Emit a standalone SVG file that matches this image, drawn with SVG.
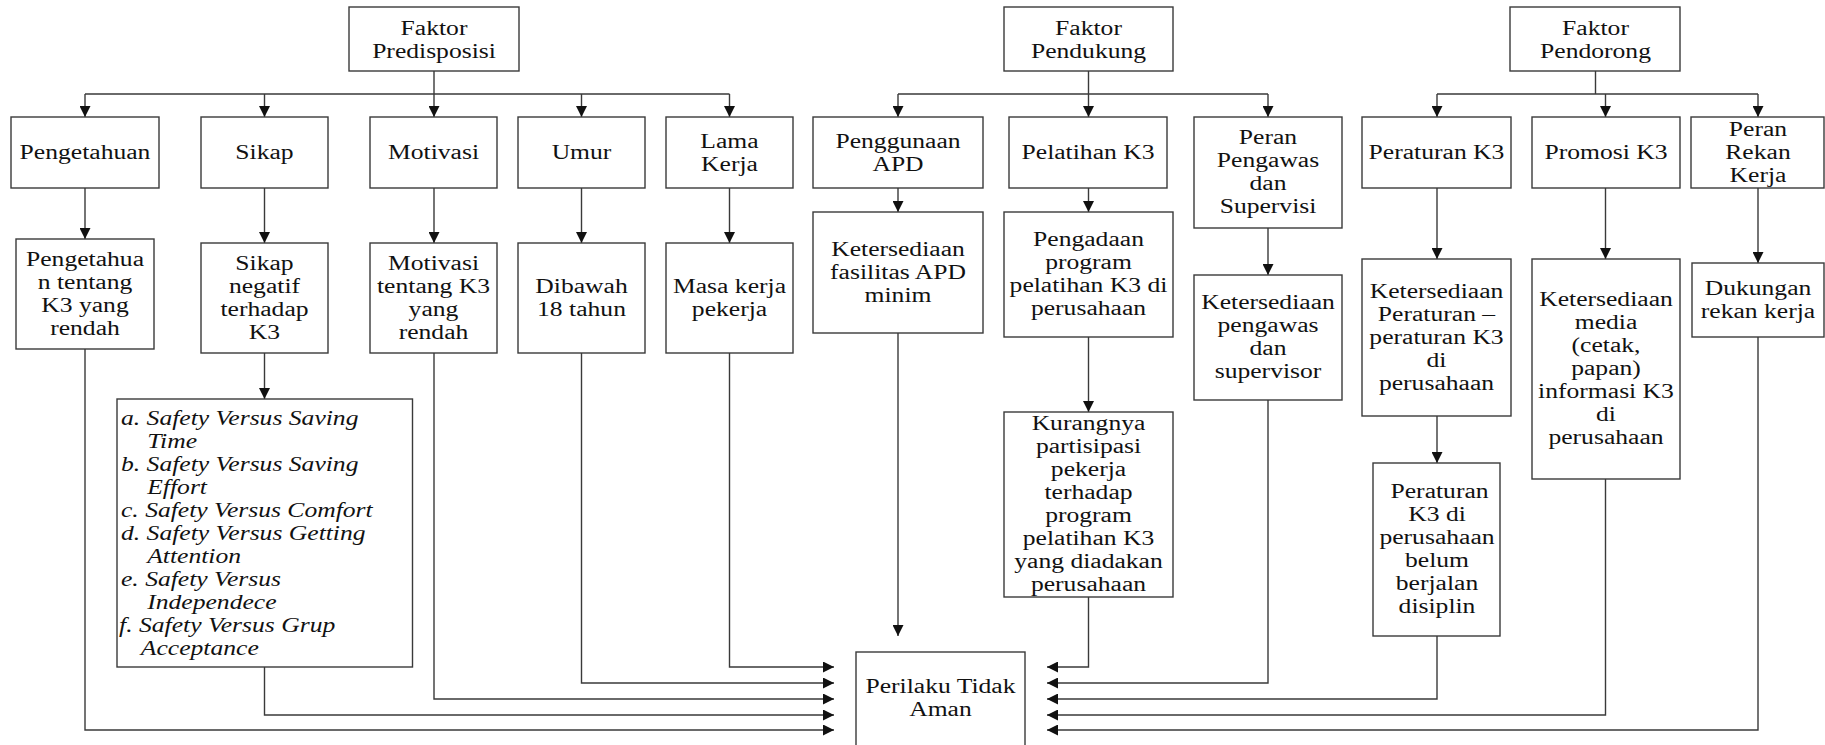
<svg xmlns="http://www.w3.org/2000/svg" width="1825" height="745" viewBox="0 0 1825 745">
<defs>
<style>
.b{fill:#fff;stroke:#3a3a3a;stroke-width:1.4}
.t{font-family:"Liberation Serif","Times New Roman",serif;font-size:20px;fill:#111;text-anchor:middle}
.i{font-family:"Liberation Serif","Times New Roman",serif;font-size:20px;font-style:italic;fill:#111}
.c{fill:none;stroke:#3a3a3a;stroke-width:1.4}
</style>
<marker id="ah" markerUnits="userSpaceOnUse" markerWidth="12" markerHeight="11" refX="11" refY="5.5" orient="auto">
<path d="M0,0 L11,5.5 L0,11 z" fill="#111"/>
</marker>
</defs>
<rect width="1825" height="745" fill="#fff"/>

<g id="connectors">
<path class="c" d="M434,71 V94 M85,94 H729.5"/>
<path class="c" marker-end="url(#ah)" d="M85,94 V117"/>
<path class="c" marker-end="url(#ah)" d="M264.5,94 V117"/>
<path class="c" marker-end="url(#ah)" d="M434,94 V117"/>
<path class="c" marker-end="url(#ah)" d="M581.5,94 V117"/>
<path class="c" marker-end="url(#ah)" d="M729.5,94 V117"/>
<path class="c" marker-end="url(#ah)" d="M85,188 V239"/>
<path class="c" marker-end="url(#ah)" d="M264.5,188 V243"/>
<path class="c" marker-end="url(#ah)" d="M434,188 V243"/>
<path class="c" marker-end="url(#ah)" d="M581.5,188 V243"/>
<path class="c" marker-end="url(#ah)" d="M729.5,188 V243"/>
<path class="c" marker-end="url(#ah)" d="M264.5,353 V399"/>
<path class="c" marker-end="url(#ah)" d="M85,349 V730 H834"/>
<path class="c" marker-end="url(#ah)" d="M264.5,667 V715 H834"/>
<path class="c" marker-end="url(#ah)" d="M434,353 V699 H834"/>
<path class="c" marker-end="url(#ah)" d="M581.5,353 V683 H834"/>
<path class="c" marker-end="url(#ah)" d="M729.5,353 V667 H834"/>

<path class="c" d="M1088.5,71 V94 M898,94 H1268"/>
<path class="c" marker-end="url(#ah)" d="M898,94 V117"/>
<path class="c" marker-end="url(#ah)" d="M1088.5,94 V117"/>
<path class="c" marker-end="url(#ah)" d="M1268,94 V117"/>
<path class="c" marker-end="url(#ah)" d="M898,188 V212"/>
<path class="c" marker-end="url(#ah)" d="M1088.5,188 V212"/>
<path class="c" marker-end="url(#ah)" d="M1268,228 V275"/>
<path class="c" marker-end="url(#ah)" d="M898,333 V636"/>
<path class="c" marker-end="url(#ah)" d="M1088.5,337 V412"/>
<path class="c" marker-end="url(#ah)" d="M1088.5,597 V667 H1047"/>
<path class="c" marker-end="url(#ah)" d="M1268,400 V683 H1047"/>

<path class="c" d="M1595.5,71 V94 M1437,94 H1758"/>
<path class="c" marker-end="url(#ah)" d="M1437,94 V117"/>
<path class="c" marker-end="url(#ah)" d="M1605.5,94 V117"/>
<path class="c" marker-end="url(#ah)" d="M1758,94 V117"/>
<path class="c" marker-end="url(#ah)" d="M1437,188 V259"/>
<path class="c" marker-end="url(#ah)" d="M1605.5,188 V259"/>
<path class="c" marker-end="url(#ah)" d="M1758,188 V263"/>
<path class="c" marker-end="url(#ah)" d="M1437,416 V463"/>
<path class="c" marker-end="url(#ah)" d="M1437,636 V699 H1047"/>
<path class="c" marker-end="url(#ah)" d="M1605.5,479 V715 H1047"/>
<path class="c" marker-end="url(#ah)" d="M1758,337 V730 H1047"/>
</g>

<g id="faktor-predisposisi">
<rect class="b" x="349" y="7" width="170" height="64"/>
<text class="t" transform="translate(434 0) scale(1.28 1)"><tspan x="0" y="35">Faktor</tspan><tspan x="0" y="58">Predisposisi</tspan></text>
</g>
<g id="faktor-pendukung">
<rect class="b" x="1004" y="7" width="169" height="64"/>
<text class="t" transform="translate(1088.5 0) scale(1.28 1)"><tspan x="0" y="35">Faktor</tspan><tspan x="0" y="58">Pendukung</tspan></text>
</g>
<g id="faktor-pendorong">
<rect class="b" x="1510" y="7" width="170" height="64"/>
<text class="t" transform="translate(1595.5 0) scale(1.28 1)"><tspan x="0" y="35">Faktor</tspan><tspan x="0" y="58">Pendorong</tspan></text>
</g>

<g id="pengetahuan">
<rect class="b" x="11" y="117" width="148" height="71"/>
<text class="t" transform="translate(85 0) scale(1.28 1)"><tspan x="0" y="159">Pengetahuan</tspan></text>
</g>
<g id="sikap">
<rect class="b" x="201" y="117" width="127" height="71"/>
<text class="t" transform="translate(264.5 0) scale(1.28 1)"><tspan x="0" y="159">Sikap</tspan></text>
</g>
<g id="motivasi">
<rect class="b" x="370" y="117" width="127" height="71"/>
<text class="t" transform="translate(433.5 0) scale(1.28 1)"><tspan x="0" y="159">Motivasi</tspan></text>
</g>
<g id="umur">
<rect class="b" x="518" y="117" width="127" height="71"/>
<text class="t" transform="translate(581.5 0) scale(1.28 1)"><tspan x="0" y="159">Umur</tspan></text>
</g>
<g id="lama-kerja">
<rect class="b" x="666" y="117" width="127" height="71"/>
<text class="t" transform="translate(729.5 0) scale(1.28 1)"><tspan x="0" y="148">Lama</tspan><tspan x="0" y="171">Kerja</tspan></text>
</g>
<g id="penggunaan-apd">
<rect class="b" x="813" y="117" width="170" height="71"/>
<text class="t" transform="translate(898 0) scale(1.28 1)"><tspan x="0" y="148">Penggunaan</tspan><tspan x="0" y="171">APD</tspan></text>
</g>
<g id="pelatihan-k3">
<rect class="b" x="1009" y="117" width="158" height="71"/>
<text class="t" transform="translate(1088 0) scale(1.28 1)"><tspan x="0" y="159">Pelatihan K3</tspan></text>
</g>
<g id="peran-pengawas">
<rect class="b" x="1194" y="117" width="148" height="111"/>
<text class="t" transform="translate(1268 0) scale(1.28 1)"><tspan x="0" y="144.5">Peran</tspan><tspan x="0" y="167.5">Pengawas</tspan><tspan x="0" y="190.5">dan</tspan><tspan x="0" y="213.5">Supervisi</tspan></text>
</g>
<g id="peraturan-k3">
<rect class="b" x="1362" y="117" width="149" height="71"/>
<text class="t" transform="translate(1436.5 0) scale(1.28 1)"><tspan x="0" y="159">Peraturan K3</tspan></text>
</g>
<g id="promosi-k3">
<rect class="b" x="1532" y="117" width="148" height="71"/>
<text class="t" transform="translate(1606 0) scale(1.28 1)"><tspan x="0" y="159">Promosi K3</tspan></text>
</g>
<g id="peran-rekan-kerja">
<rect class="b" x="1691" y="117" width="133" height="71"/>
<text class="t" transform="translate(1758 0) scale(1.28 1)"><tspan x="0" y="136">Peran</tspan><tspan x="0" y="159">Rekan</tspan><tspan x="0" y="182">Kerja</tspan></text>
</g>

<g id="pengetahuan-rendah">
<rect class="b" x="16" y="239" width="138" height="110"/>
<text class="t" transform="translate(85 0) scale(1.28 1)"><tspan x="0" y="266">Pengetahua</tspan><tspan x="0" y="289">n tentang</tspan><tspan x="0" y="312">K3 yang</tspan><tspan x="0" y="335">rendah</tspan></text>
</g>
<g id="sikap-negatif">
<rect class="b" x="201" y="243" width="127" height="110"/>
<text class="t" transform="translate(264.5 0) scale(1.28 1)"><tspan x="0" y="270">Sikap</tspan><tspan x="0" y="293">negatif</tspan><tspan x="0" y="316">terhadap</tspan><tspan x="0" y="339">K3</tspan></text>
</g>
<g id="motivasi-rendah">
<rect class="b" x="370" y="243" width="127" height="110"/>
<text class="t" transform="translate(433.5 0) scale(1.28 1)"><tspan x="0" y="270">Motivasi</tspan><tspan x="0" y="293">tentang K3</tspan><tspan x="0" y="316">yang</tspan><tspan x="0" y="339">rendah</tspan></text>
</g>
<g id="dibawah-18">
<rect class="b" x="518" y="243" width="127" height="110"/>
<text class="t" transform="translate(581.5 0) scale(1.28 1)"><tspan x="0" y="293">Dibawah</tspan><tspan x="0" y="316">18 tahun</tspan></text>
</g>
<g id="masa-kerja">
<rect class="b" x="666" y="243" width="127" height="110"/>
<text class="t" transform="translate(729.5 0) scale(1.28 1)"><tspan x="0" y="293">Masa kerja</tspan><tspan x="0" y="316">pekerja</tspan></text>
</g>
<g id="fasilitas-apd">
<rect class="b" x="813" y="212" width="170" height="121"/>
<text class="t" transform="translate(898 0) scale(1.28 1)"><tspan x="0" y="256">Ketersediaan</tspan><tspan x="0" y="279">fasilitas APD</tspan><tspan x="0" y="302">minim</tspan></text>
</g>
<g id="pengadaan-program">
<rect class="b" x="1004" y="212" width="169" height="125"/>
<text class="t" transform="translate(1088.5 0) scale(1.28 1)"><tspan x="0" y="246.5">Pengadaan</tspan><tspan x="0" y="269.5">program</tspan><tspan x="0" y="292.5">pelatihan K3 di</tspan><tspan x="0" y="315.5">perusahaan</tspan></text>
</g>
<g id="ketersediaan-pengawas">
<rect class="b" x="1194" y="275" width="148" height="125"/>
<text class="t" transform="translate(1268 0) scale(1.28 1)"><tspan x="0" y="309.5">Ketersediaan</tspan><tspan x="0" y="332.5">pengawas</tspan><tspan x="0" y="355.5">dan</tspan><tspan x="0" y="378.5">supervisor</tspan></text>
</g>
<g id="ketersediaan-peraturan">
<rect class="b" x="1362" y="259" width="149" height="157"/>
<text class="t" transform="translate(1436.5 0) scale(1.28 1)"><tspan x="0" y="298">Ketersediaan</tspan><tspan x="0" y="321">Peraturan –</tspan><tspan x="0" y="344">peraturan K3</tspan><tspan x="0" y="367">di</tspan><tspan x="0" y="390">perusahaan</tspan></text>
</g>
<g id="ketersediaan-media">
<rect class="b" x="1532" y="259" width="148" height="220"/>
<text class="t" transform="translate(1606 0) scale(1.28 1)"><tspan x="0" y="306">Ketersediaan</tspan><tspan x="0" y="329">media</tspan><tspan x="0" y="352">(cetak,</tspan><tspan x="0" y="375">papan)</tspan><tspan x="0" y="398">informasi K3</tspan><tspan x="0" y="421">di</tspan><tspan x="0" y="444">perusahaan</tspan></text>
</g>
<g id="dukungan-rekan">
<rect class="b" x="1692" y="263" width="132" height="74"/>
<text class="t" transform="translate(1758 0) scale(1.28 1)"><tspan x="0" y="295">Dukungan</tspan><tspan x="0" y="318">rekan kerja</tspan></text>
</g>

<g id="safety-list">
<rect class="b" x="117" y="399" width="295.5" height="268"/>
<text class="i" transform="translate(121 0) scale(1.28 1)"><tspan x="0" y="425">a. Safety Versus Saving</tspan><tspan x="20.5" y="448">Time</tspan><tspan x="0" y="471">b. Safety Versus Saving</tspan><tspan x="20.5" y="494">Effort</tspan><tspan x="0" y="517">c. Safety Versus Comfort</tspan><tspan x="0" y="540">d. Safety Versus Getting</tspan><tspan x="20.5" y="563">Attention</tspan><tspan x="0" y="586">e. Safety Versus</tspan><tspan x="20.5" y="609">Independece</tspan><tspan x="-1.5" y="632">f. Safety Versus Grup</tspan><tspan x="15.5" y="655">Acceptance</tspan></text>
</g>
<g id="kurangnya-partisipasi">
<rect class="b" x="1004" y="412" width="169" height="185"/>
<text class="t" transform="translate(1088.5 0) scale(1.28 1)"><tspan x="0" y="430.5">Kurangnya</tspan><tspan x="0" y="453.5">partisipasi</tspan><tspan x="0" y="476.5">pekerja</tspan><tspan x="0" y="499.5">terhadap</tspan><tspan x="0" y="522.5">program</tspan><tspan x="0" y="545.5">pelatihan K3</tspan><tspan x="0" y="568.5">yang diadakan</tspan><tspan x="0" y="591.5">perusahaan</tspan></text>
</g>
<g id="peraturan-belum">
<rect class="b" x="1373" y="463" width="127" height="173"/>
<text class="t" transform="translate(1437 0) scale(1.28 1)"><tspan x="2" y="498">Peraturan</tspan><tspan x="0" y="521">K3 di</tspan><tspan x="0" y="544">perusahaan</tspan><tspan x="0" y="567">belum</tspan><tspan x="0" y="590">berjalan</tspan><tspan x="0" y="613">disiplin</tspan></text>
</g>
<g id="perilaku-tidak-aman">
<rect class="b" x="856" y="652" width="169" height="100"/>
<text class="t" transform="translate(940.5 0) scale(1.28 1)"><tspan x="0" y="693.5">Perilaku Tidak</tspan><tspan x="0" y="716.5">Aman</tspan></text>
</g>
</svg>
